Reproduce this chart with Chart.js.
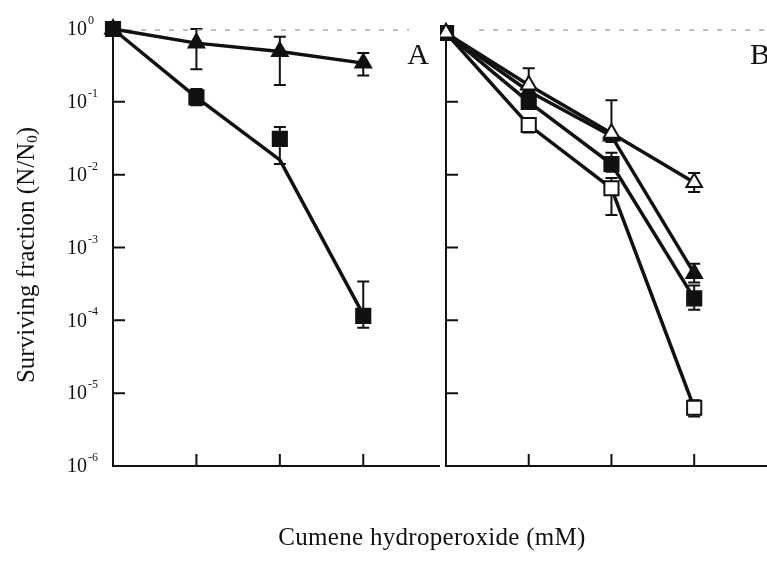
<!DOCTYPE html>
<html>
<head>
<meta charset="utf-8">
<script src="https://cdn.jsdelivr.net/npm/chart.js@4"></script>
<style>
body { margin: 0; background: #fff; width: 767px; height: 561px; overflow: hidden; position: relative; }
canvas { position: absolute; top: 0; }
#chartA { left: 0; }
#chartB { left: 440px; }
#xtitle { position: absolute; left: 0; width: 864px; top: 523px; text-align: center;
  font-family: "Liberation Serif", serif; font-size: 25px; letter-spacing: 0.3px; color: #111; }
</style>
</head>
<body>
<canvas id="chartA" width="446" height="561"></canvas>
<canvas id="chartB" width="327" height="561"></canvas>
<div id="xtitle">Cumene hydroperoxide (mM)</div>
<script>
var doses = [0, 1, 2, 3];
var yTickExps = [0, -1, -2, -3, -4, -5, -6];

// panel A
var sqA = [1, 0.115, 0.031, 1.15e-4];
var sqAHi = [null, 0.15, 0.045, 3.4e-4];
var sqALo = [null, 0.09, 0.014, 7.9e-5];
var sqAFit = [1, 0.115, 0.016, 1.2e-4];
var triA = [1, 0.64, 0.49, 0.34];
var triAHi = [null, 1.0, 0.78, 0.47];
var triALo = [null, 0.28, 0.17, 0.23];

// panel B
var openTriB = [0.88, 0.17, 0.037, 0.0078];
var openTriBHi = [null, 0.29, 0.105, 0.0105];
var openTriBLo = [null, 0.13, 0.028, 0.0058];
var triB = [0.88, 0.14, 0.034, 4.4e-4];
var triBHi = [null, null, null, 6e-4];
var triBLo = [null, null, null, 3.3e-4];
var sqB = [0.88, 0.10, 0.014, 2.0e-4];
var sqBHi = [null, null, 0.02, 3.0e-4];
var sqBLo = [null, null, 0.011, 1.4e-4];
var openSqB = [0.88, 0.048, 0.0065, 6.3e-6];
var openSqBHi = [null, 0.06, 0.009, 8e-6];
var openSqBLo = [null, 0.038, 0.0028, 4.8e-6];

var ink = '#111';

function pts(vals) {
  return doses.map(function(d, i) { return { x: d, y: vals[i] }; });
}

function series(vals, style, filled, hi, lo, opts) {
  var ds = {
    data: pts(vals),
    borderColor: ink,
    borderWidth: 3.5,
    pointStyle: style,
    pointRadius: style == 'triangle' ? 9 : 10,
    pointBackgroundColor: filled ? ink : '#fff',
    pointBorderColor: ink,
    pointBorderWidth: 2,
    clip: false,
    errHi: hi,
    errLo: lo
  };
  for (var k in opts || {}) ds[k] = opts[k];
  return ds;
}

var errorBars = {
  id: 'errorBars',
  beforeDatasetsDraw: function(chart) {
    var ctx = chart.ctx, y = chart.scales.y;
    chart.data.datasets.forEach(function(ds, i) {
      if (!ds.errHi) return;
      var meta = chart.getDatasetMeta(i);
      meta.data.forEach(function(pt, j) {
        if (ds.errHi[j] == null) return;
        var top = y.getPixelForValue(ds.errHi[j]), bot = y.getPixelForValue(ds.errLo[j]);
        ctx.save();
        ctx.strokeStyle = ink;
        ctx.lineWidth = 2;
        ctx.beginPath();
        ctx.moveTo(pt.x, top); ctx.lineTo(pt.x, bot);
        ctx.moveTo(pt.x - 6, top); ctx.lineTo(pt.x + 6, top);
        ctx.moveTo(pt.x - 6, bot); ctx.lineTo(pt.x + 6, bot);
        ctx.stroke();
        ctx.restore();
      });
    });
  }
};

// axis lines, inward ticks, dashed 10^0 line, panel letter
var frame = {
  id: 'frame',
  beforeDatasetsDraw: function(chart, args, o) {
    var ctx = chart.ctx, a = chart.chartArea, x = chart.scales.x, y = chart.scales.y;
    ctx.save();
    ctx.strokeStyle = '#aaa';
    ctx.lineWidth = 1.5;
    ctx.setLineDash([5, 9]);
    ctx.beginPath();
    ctx.moveTo(x.getPixelForValue(o.refFrom), y.getPixelForValue(1) + 1);
    ctx.lineTo(x.getPixelForValue(o.refTo), y.getPixelForValue(1) + 1);
    ctx.stroke();
    ctx.setLineDash([]);
    ctx.strokeStyle = ink;
    ctx.lineWidth = 2;
    ctx.beginPath();
    ctx.moveTo(a.left, a.top + 4);
    ctx.lineTo(a.left, a.bottom);
    ctx.lineTo(a.right, a.bottom);
    yTickExps.slice(1, -1).forEach(function(e) {
      var py = y.getPixelForValue(Math.pow(10, e));
      ctx.moveTo(a.left, py); ctx.lineTo(a.left + 12, py);
    });
    doses.slice(1).forEach(function(d) {
      var px = x.getPixelForValue(d);
      ctx.moveTo(px, a.bottom); ctx.lineTo(px, a.bottom - 12);
    });
    ctx.stroke();
    ctx.fillStyle = ink;
    ctx.font = '30px "Liberation Serif", serif';
    ctx.textAlign = 'center';
    ctx.textBaseline = 'middle';
    ctx.fillText(o.letter, o.letterX, 56);
    ctx.restore();
  }
};

// y tick labels and y title, panel A only
var yLabels = {
  id: 'yLabels',
  afterDraw: function(chart) {
    var ctx = chart.ctx, y = chart.scales.y;
    ctx.save();
    ctx.fillStyle = ink;
    ctx.textBaseline = 'middle';
    ctx.textAlign = 'left';
    yTickExps.forEach(function(e) {
      var py = y.getPixelForValue(Math.pow(10, e));
      ctx.font = '20px "Liberation Serif", serif';
      ctx.fillText('10', 67, py + 1);
      ctx.font = '12px "Liberation Serif", serif';
      ctx.fillText(e == 0 ? '0' : '-' + (-e), 88, py - 8);
    });
    ctx.translate(27, 255);
    ctx.rotate(-Math.PI / 2);
    var f1 = '25px "Liberation Serif", serif', f2 = '15px "Liberation Serif", serif';
    var t1 = 'Surviving fraction (N/N', t2 = '0', t3 = ')';
    ctx.font = f1; var w1 = ctx.measureText(t1).width, w3 = ctx.measureText(t3).width;
    ctx.font = f2; var w2 = ctx.measureText(t2).width;
    var sx = -(w1 + w2 + w3) / 2;
    ctx.font = f1; ctx.fillText(t1, sx, 0);
    ctx.font = f2; ctx.fillText(t2, sx + w1, 6);
    ctx.font = f1; ctx.fillText(t3, sx + w1 + w2, 0);
    ctx.restore();
  }
};

function options(pad, xMax, frameOpts) {
  return {
    responsive: false,
    animation: false,
    layout: { padding: pad, autoPadding: false },
    plugins: { legend: { display: false }, tooltip: { enabled: false }, frame: frameOpts },
    scales: {
      x: { type: 'linear', min: 0, max: xMax, display: false },
      y: { type: 'logarithmic', min: 1e-6, max: 1, display: false }
    }
  };
}

new Chart(document.getElementById('chartA'), {
  type: 'line',
  data: {
    datasets: [
      series(sqAFit, false, true, null, null, { pointRadius: 0 }),
      series(sqA, 'rect', true, sqAHi, sqALo, { showLine: false }),
      series(triA, 'triangle', true, triAHi, triALo)
    ]
  },
  options: options({ left: 113, right: 6, top: 29, bottom: 95 }, 3.92,
    { refFrom: 0, refTo: 3.55, letter: 'A', letterX: 418 }),
  plugins: [errorBars, frame, yLabels]
});

new Chart(document.getElementById('chartB'), {
  type: 'line',
  data: {
    datasets: [
      series(openTriB, 'triangle', false, openTriBHi, openTriBLo),
      series(triB, 'triangle', true, triBHi, triBLo),
      series(sqB, 'rect', true, sqBHi, sqBLo),
      series(openSqB, 'rect', false, openSqBHi, openSqBLo)
    ]
  },
  options: options({ left: 6, right: 0, top: 29, bottom: 95 }, 3.88,
    { refFrom: 0.4, refTo: 3.88, letter: 'B', letterX: 760 - 440 }),
  plugins: [errorBars, frame]
});
</script>
</body>
</html>
